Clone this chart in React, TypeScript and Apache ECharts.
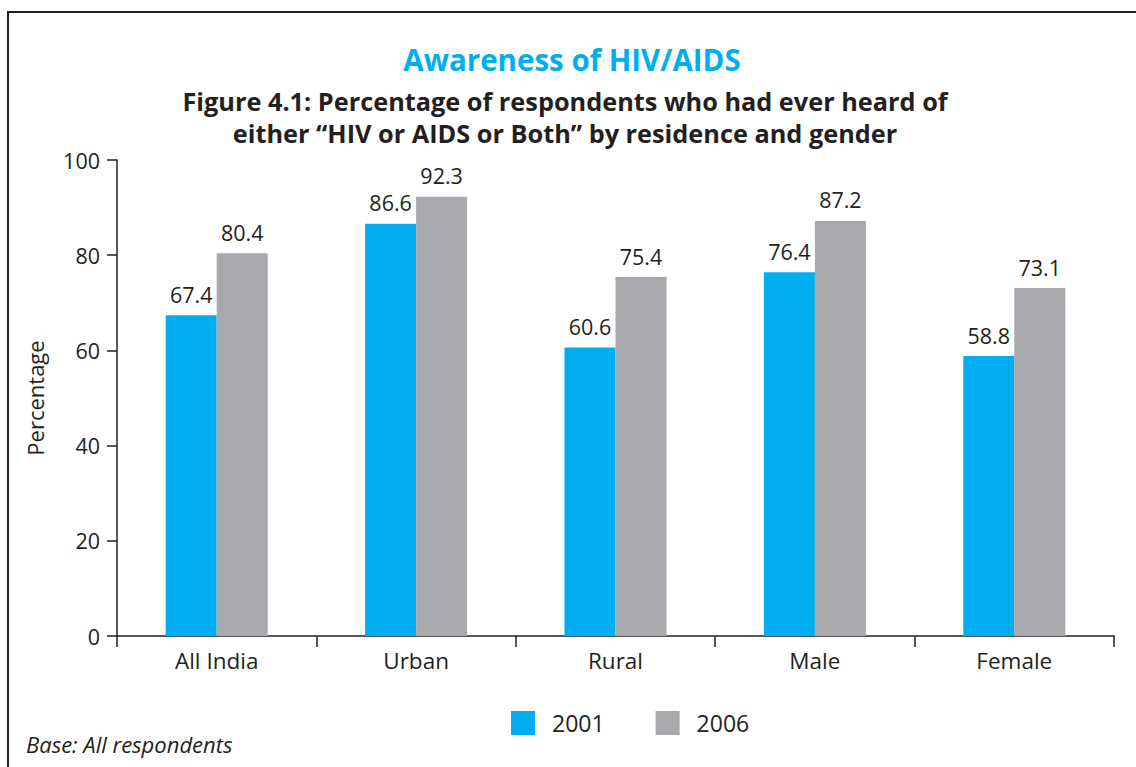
import React, { useEffect, useRef } from "react";
import * as echarts from "echarts";

const categories = ["All India", "Urban", "Rural", "Male", "Female"];
const values2001 = [67.4, 86.6, 60.6, 76.4, 58.8];
const values2006 = [80.4, 92.3, 75.4, 87.2, 73.1];
const seriesNames = ["2001", "2006"];
const yTicks = { min: 0, max: 100, interval: 20 };

const FONT = "'Open Sans', 'DejaVu Sans', sans-serif";
const DARK = "#231f20";
const BLUE = "#00aeef";
const GRAY = "#a7a9ac";

export default function App() {
  const ref = useRef<HTMLDivElement>(null);
  useEffect(() => {
    document.body.style.margin = "0";
    const chart = echarts.init(ref.current!, null, { renderer: "svg" });
    const labelStyle = {
      show: true,
      position: "top" as const,
      distance: 10,
      color: DARK,
      fontSize: 21.5,
      fontFamily: FONT,
    };
    chart.setOption({
      animation: false,
      backgroundColor: "#ffffff",
      textStyle: { fontFamily: FONT, color: DARK },
      title: [
        {
          text: "Awareness of HIV/AIDS",
          left: 567,
          textAlign: "center",
          top: 39,
          textStyle: { color: BLUE, fontSize: 29.5, fontWeight: "bold", fontFamily: FONT },
        },
        {
          text: "Figure 4.1: Percentage of respondents who had ever heard of\neither \u201cHIV or AIDS or Both\u201d by residence and gender",
          left: 560,
          textAlign: "center",
          top: 80,
          textStyle: { color: DARK, fontSize: 25.3, fontWeight: "bold", lineHeight: 32, fontFamily: FONT },
        },
      ],
      graphic: [
        {
          type: "rect",
          shape: { x: 8, y: 12, width: 1140, height: 770 },
          style: { fill: "none", stroke: DARK, lineWidth: 2 },
          silent: true,
        },
        {
          type: "text",
          left: 26,
          top: 733,
          style: { text: "Base: All respondents", fill: DARK, fontSize: 22, fontStyle: "italic", fontFamily: FONT },
        },
      ],
      legend: {
        data: seriesNames,
        left: 506,
        top: 706,
        itemWidth: 24,
        itemHeight: 24,
        itemGap: 51,
        icon: "rect",
        textStyle: { color: DARK, fontSize: 23, fontFamily: FONT, padding: [0, 0, 0, 12] },
      },
      grid: { left: 117, right: 22, top: 160, bottom: 131, containLabel: false },
      xAxis: {
        type: "category",
        data: categories,
        axisLine: { show: true, lineStyle: { color: DARK, width: 1.5 } },
        axisTick: { show: true, length: 11, alignWithLabel: false, lineStyle: { color: DARK, width: 1.5 } },
        axisLabel: { color: DARK, fontSize: 22.5, margin: 13, fontFamily: FONT },
        splitLine: { show: false },
      },
      yAxis: {
        type: "value",
        min: yTicks.min,
        max: yTicks.max,
        interval: yTicks.interval,
        name: "Percentage",
        nameLocation: "middle",
        nameGap: 71,
        nameTextStyle: { color: DARK, fontSize: 22, fontFamily: FONT },
        axisLine: { show: true, lineStyle: { color: DARK, width: 1.5 } },
        axisTick: { show: true, length: 10, inside: false, lineStyle: { color: DARK, width: 1.5 } },
        axisLabel: { color: DARK, fontSize: 21.5, margin: 17, fontFamily: FONT },
        splitLine: { show: false },
      },
      series: [
        {
          name: seriesNames[0],
          type: "bar",
          data: values2001,
          barWidth: 51,
          barGap: "0%",
          itemStyle: { color: BLUE },
          label: labelStyle,
        },
        {
          name: seriesNames[1],
          type: "bar",
          data: values2006,
          barWidth: 51,
          itemStyle: { color: GRAY },
          label: labelStyle,
        },
      ],
    });
    return () => chart.dispose();
  }, []);
  return (
    <div
      ref={ref}
      style={{ position: "absolute", left: 0, top: 0, width: 1136, height: 767 }}
    />
  );
}
